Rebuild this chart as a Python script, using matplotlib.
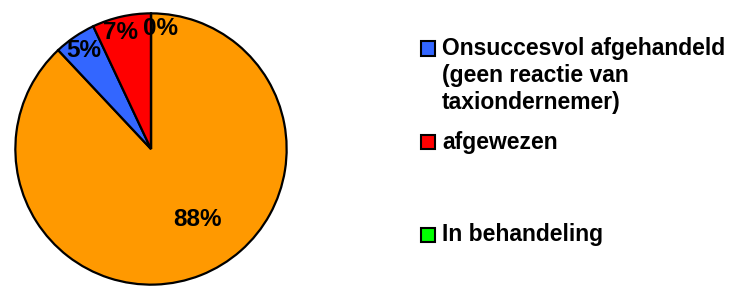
import matplotlib
matplotlib.use('Agg')
import matplotlib.pyplot as plt
from matplotlib.patches import Rectangle
import numpy as np

# ---- data ----
categories = ['Overig',
              'Onsuccesvol afgehandeld\n(geen reactie van\ntaxiondernemer)',
              'afgewezen',
              'In behandeling']
values = [88, 5, 7, 0]
colors = ['#FF9900', '#3366FF', '#FF0000', '#00FF00']
legend_items = [1, 2, 3]  # indices shown in legend

W, H = 734, 287
fig = plt.figure(figsize=(W / 100, H / 100), dpi=100)
FONT = 'Liberation Sans'

cx, cy, r = 151, 149, 137
ax = fig.add_axes([(cx - r) / W, (H - cy - r) / H, 2 * r / W, 2 * r / H])
wedges, texts = ax.pie(values, colors=colors, startangle=90, counterclock=False,
                       wedgeprops=dict(edgecolor='black', linewidth=1.6),
                       normalize=True)
ax.set_xlim(-1.01, 1.01)
ax.set_ylim(-1.01, 1.01)
ax.set_aspect('equal')
ax.axis('off')

# percentage labels
total = sum(values)
angle = 90.0
dist = [0.62, 0.88, 0.88, 0.89]
for i, v in enumerate(values):
    span = 360.0 * v / total
    mid = np.deg2rad(angle - span / 2)
    angle -= span
    x, y = dist[i] * np.cos(mid), dist[i] * np.sin(mid)
    if i == 0:
        x, y = 0.34, -0.52
    if i == 2:
        x -= 0.035
    if i == 3:
        x += 0.07
    ax.text(x, y, f'{v:.0f}%', ha='center', va='center', fontsize=17.5,
            fontweight='bold', family=FONT, color='black')

# legend (manual)
marker_bottom = [55.5, 148.5, 241.5]   # px from top
text_baseline = [55.5, 148.5, 241.5]   # baseline of first line, px from top
LINE = 26.5                            # px between lines
for k, idx in enumerate(legend_items):
    yb = marker_bottom[k]
    fig.patches.append(Rectangle((421 / W, (H - yb) / H), 14 / W, 14 / H,
                                 transform=fig.transFigure, facecolor=colors[idx],
                                 edgecolor='black', linewidth=1.5))
    lines = categories[idx].split('\n')
    for j, line in enumerate(lines):
        fig.text(442 / W, (H - text_baseline[k] - j * LINE) / H, line, ha='left',
                 va='baseline', fontsize=16.5, fontweight='bold', family=FONT)

fig.savefig('out.png', dpi=100)
